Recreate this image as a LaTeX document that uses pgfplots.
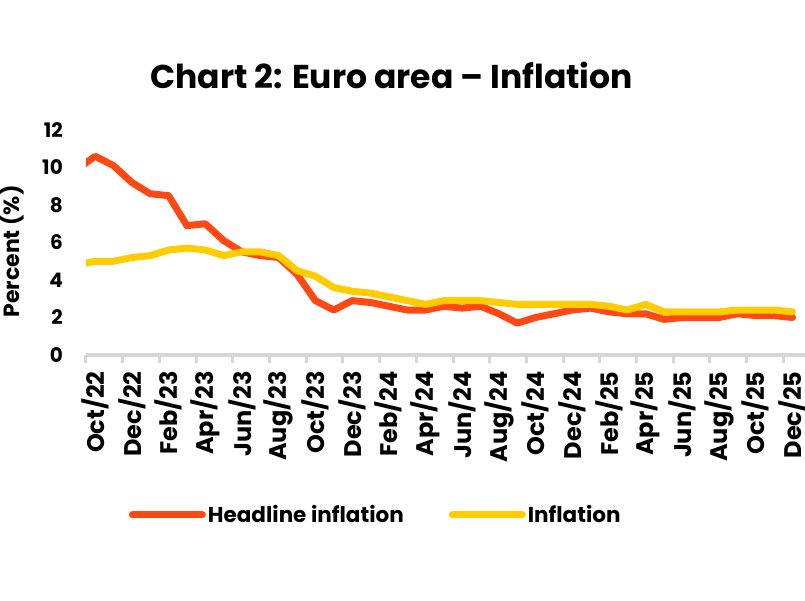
\documentclass[border=0pt]{standalone}
\usepackage{pgfplots}
\pgfplotsset{compat=1.18}
\usepackage{fontspec}
\setmainfont{Poppins}
\definecolor{hred}{RGB}{255,72,20}
\definecolor{hyel}{RGB}{255,204,0}
\definecolor{axgray}{RGB}{214,214,214}
\begin{document}
\begin{tikzpicture}[x=1pt,y=1pt]
\useasboundingbox (0,0) rectangle (805,600);
\begin{axis}[
  at={(86pt,245pt)}, anchor=south west,
  scale only axis, width=719pt, height=225pt,
  xmin=0.5, xmax=39.68, ymin=0, ymax=12,
  axis x line*=bottom, axis y line*=left,
  x axis line style={draw=axgray, line width=3.5pt, -},
  y axis line style={draw=none},
  ytick={0,2,...,12},
  yticklabels={},
  ytick style={draw=none},
  xtick={1,3,...,39},
  xticklabels={Oct/22,Dec/22,Feb/23,Apr/23,Jun/23,Aug/23,Oct/23,Dec/23,Feb/24,Apr/24,Jun/24,Aug/24,Oct/24,Dec/24,Feb/25,Apr/25,Jun/25,Aug/25,Oct/25,Dec/25},
  major x tick style={draw=none},
  minor xtick={0.5,2.5,...,38.5},
  minor x tick style={draw=axgray, line width=3pt},
  minor tick length=8pt,
  tick align=outside,
  xticklabel style={rotate=90, anchor=east, font=\bfseries\fontsize{24}{24}\selectfont, inner sep=0pt, xshift=-12pt},
  ylabel={Percent (\%)},
  ylabel style={at={(axis description cs:-0.1029,0.46)}, anchor=center, font=\bfseries\fontsize{22}{22}\selectfont},
  title={Chart 2: Euro area -- Inflation},
  title style={at={(axis description cs:0.425,1.216)}, anchor=center, font=\bfseries\fontsize{33}{33}\selectfont},
  legend columns=2,
  legend style={at={(axis description cs:0.403,-0.711)}, anchor=center, draw=none, fill=none,
    font=\bfseries\fontsize{21.5}{21.5}\selectfont,
    /tikz/every even column/.append style={column sep=43pt},
    nodes={inner sep=2pt}},
  legend image code/.code={\draw[#1, line cap=round] (0pt,0pt) -- (70pt,0pt);},
  clip mode=individual,
]
\addplot[hred, line width=7pt, line join=round, line cap=round] coordinates {
(0,9.9)(1,10.6)(2,10.1)(3,9.2)(4,8.6)(5,8.5)(6,6.9)(7,7.0)(8,6.1)(9,5.5)
(10,5.3)(11,5.2)(12,4.3)(13,2.9)(14,2.4)(15,2.9)(16,2.8)(17,2.6)(18,2.4)(19,2.4)
(20,2.6)(21,2.5)(22,2.6)(23,2.2)(24,1.7)(25,2.0)(26,2.2)(27,2.4)(28,2.5)(29,2.3)
(30,2.2)(31,2.2)(32,1.9)(33,2.0)(34,2.0)(35,2.0)(36,2.2)(37,2.1)(38,2.1)(39,2.0)
};
\addlegendentry{Headline inflation}
\addplot[hyel, line width=7pt, line join=round, line cap=round] coordinates {
(0,4.8)(1,5.0)(2,5.0)(3,5.2)(4,5.3)(5,5.6)(6,5.7)(7,5.6)(8,5.3)(9,5.5)
(10,5.5)(11,5.3)(12,4.5)(13,4.2)(14,3.6)(15,3.4)(16,3.3)(17,3.1)(18,2.9)(19,2.7)
(20,2.9)(21,2.9)(22,2.9)(23,2.8)(24,2.7)(25,2.7)(26,2.7)(27,2.7)(28,2.7)(29,2.6)
(30,2.4)(31,2.7)(32,2.3)(33,2.3)(34,2.3)(35,2.3)(36,2.4)(37,2.4)(38,2.4)(39,2.3)
};
\addlegendentry{Inflation}
\pgfplotsinvokeforeach{0,2,4,6,8,10,12}{
  \node[anchor=east, inner sep=0pt, xshift=-23pt, font=\bfseries\fontsize{20}{20}\selectfont] at (axis cs:0.5,#1) {#1};
}
\end{axis}
\end{tikzpicture}
\end{document}
